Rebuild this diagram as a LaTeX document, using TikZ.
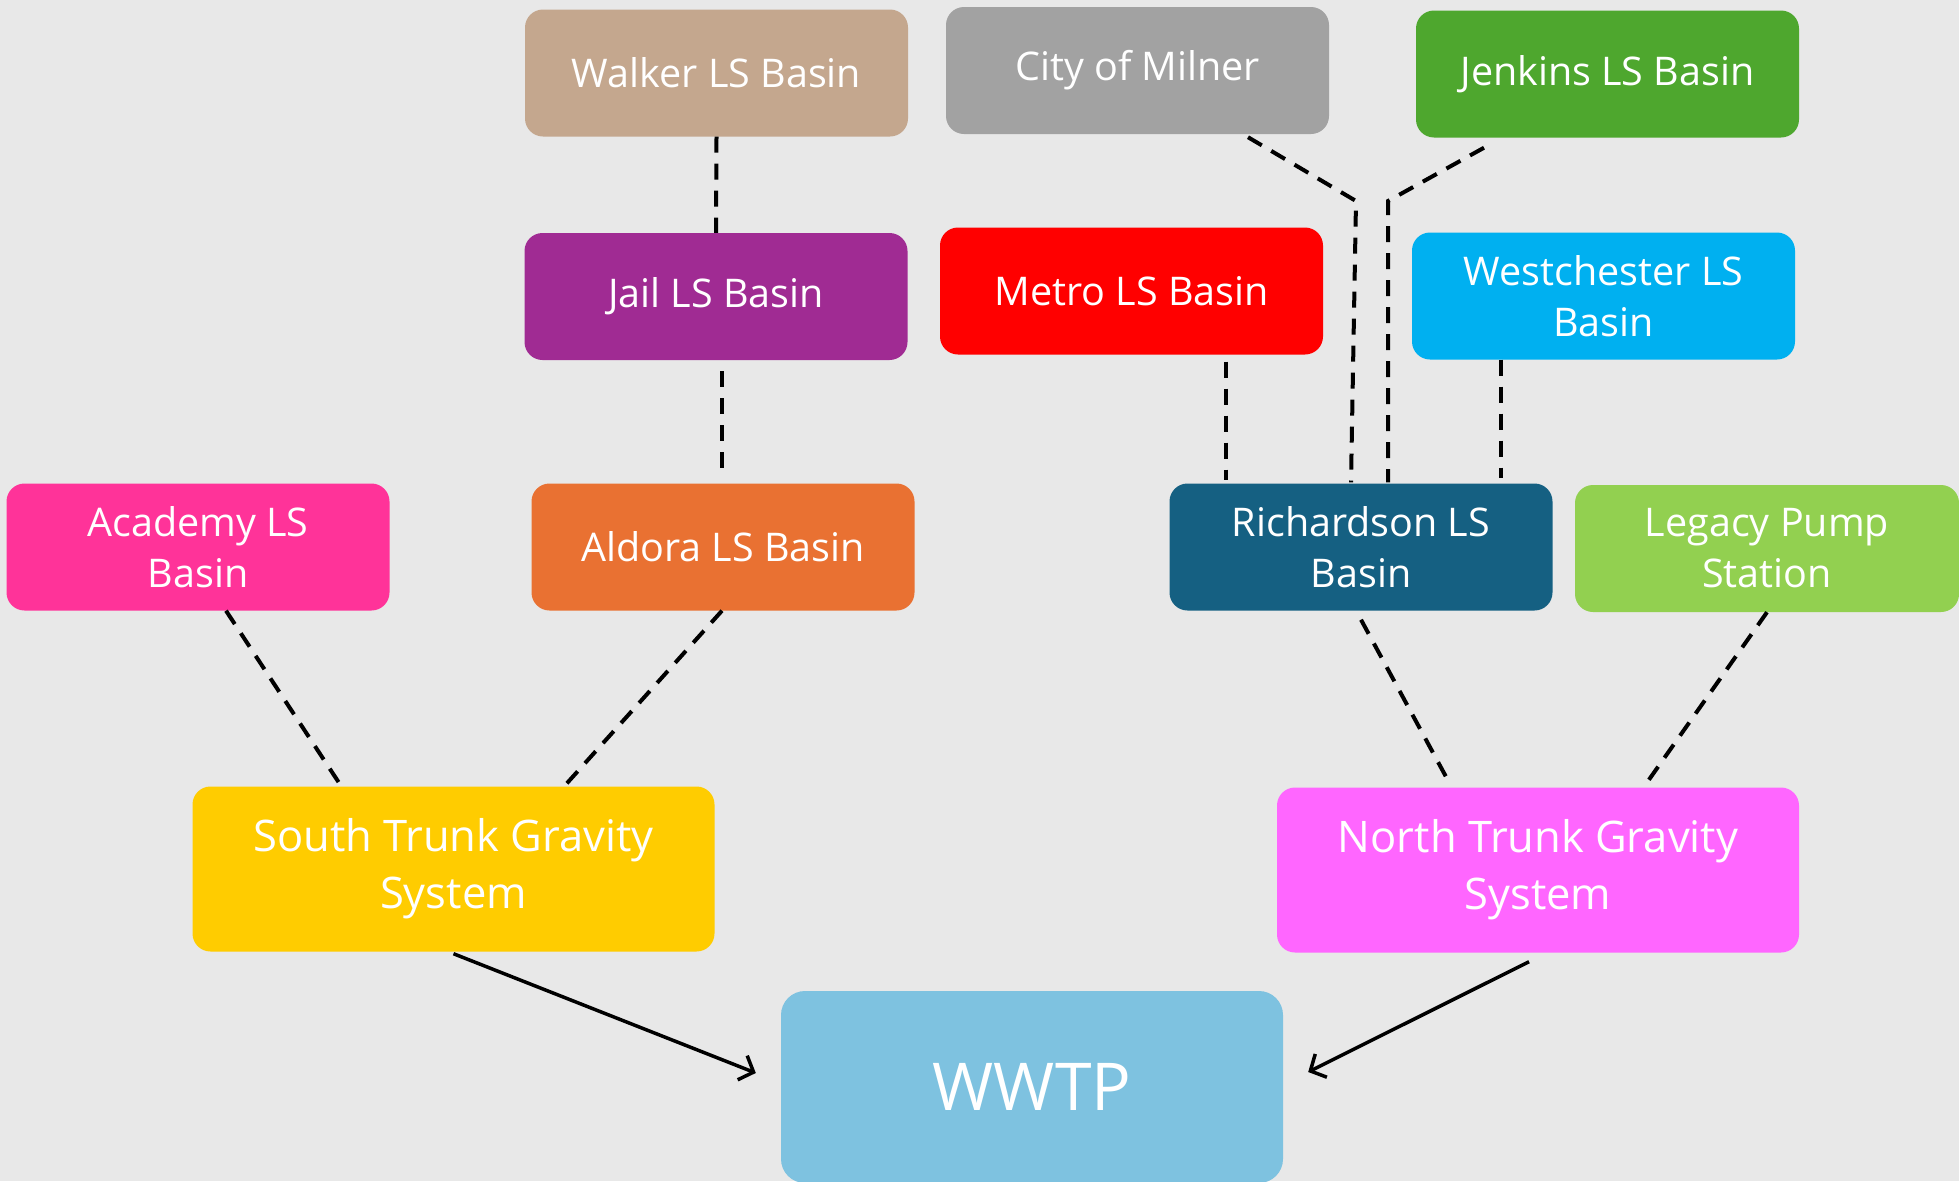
\documentclass[tikz,border=0pt]{standalone}
\usepackage{fontspec}
\setmainfont{Open Sans}
\usetikzlibrary{arrows.meta,calc}
\definecolor{bgc}{HTML}{E8E8E8}
\definecolor{cwalker}{HTML}{C4A78E}
\definecolor{cmilner}{HTML}{A2A2A2}
\definecolor{cjenkins}{HTML}{4EA72E}
\definecolor{cjail}{HTML}{A02B93}
\definecolor{cmetro}{HTML}{FF0000}
\definecolor{cwest}{HTML}{00B0F0}
\definecolor{cacademy}{HTML}{FF3399}
\definecolor{caldora}{HTML}{E97132}
\definecolor{crich}{HTML}{156082}
\definecolor{clegacy}{HTML}{92D050}
\definecolor{csouth}{HTML}{FFCC00}
\definecolor{cnorth}{HTML}{FF66FF}
\definecolor{cwwtp}{HTML}{7EC2E0}
\begin{document}
\begin{tikzpicture}[x=1pt,y=-1pt,
 box/.style={rounded corners=18pt, minimum width=383pt, minimum height=127pt, inner sep=0pt, text=white, align=center, font=\fontsize{39.5}{51}\selectfont},
 trunk/.style={box, minimum width=522pt, minimum height=165pt, font=\fontsize{43.5}{57}\selectfont},
 conn/.style={line width=4pt, dash pattern=on 16pt off 11pt},
 flow/.style={line width=3.5pt, -{Straight Barb[length=12pt,width=26pt]}}]
\fill[bgc] (0,0) rectangle (1959,1181);
\useasboundingbox (0,0) rectangle (1959,1181);
\begin{scope}
\clip (0,0) rectangle (1959,1181);
\node[box, fill=cwwtp, rounded corners=24pt, minimum width=502pt, minimum height=192pt, font=\fontsize{66}{70}\selectfont] (wwtp) at (1032,1087) {WWTP};
\end{scope}
\node[box, fill=cwalker] (walker) at (716.5,73) {Walker LS Basin};
\node[box, fill=cjail] (jail) at (716,296.5) {Jail LS Basin};
\node[box, fill=cmilner] (milner) at (1137.5,70.5) {City of Milner};
\node[box, fill=cjenkins] (jenkins) at (1607.5,74) {Jenkins LS Basin};
\node[box, fill=cmetro] (metro) at (1131.5,291) {Metro LS Basin};
\node[box, fill=cwest] (west) at (1603.5,296) {Westchester LS\\Basin};
\node[box, fill=cacademy] (academy) at (198,547) {Academy LS\\Basin};
\node[box, fill=caldora] (aldora) at (723,547) {Aldora LS Basin};
\node[box, fill=crich] (rich) at (1361,547) {Richardson LS\\Basin};
\node[box, fill=clegacy, minimum width=384pt] (legacy) at (1767,548.5) {Legacy Pump\\Station};
\node[trunk, fill=csouth] (south) at (453.5,869) {South Trunk Gravity\\System};
\node[trunk, fill=cnorth] (north) at (1538,870) {North Trunk Gravity\\System};
% dashed connectors
\draw[conn] (walker.south) -- (jail.north);
\draw[conn] ($(jail.south)+(6,11)$) -- ($(aldora.north)+(-1,-11)$);
\draw[conn] ($(academy.south)+(28,0)$) -- ($(south.north)+(-113.5,-2)$);
\draw[conn] ($(aldora.south)+(-1,0)$) -- ($(south.north)+(112.5,-2)$);
\draw[conn] ($(metro.south)+(94.5,7)$) -- ($(rich.north)+(-135,-3)$);
\draw[conn] ($(west.south)+(-102.5,0)$) -- ($(rich.north)+(140,-5)$);
\coordinate (mbend) at (1356,201);
\coordinate (jbend) at (1388,201);
\draw[conn] ($(milner.south)+(110.5,3)$) -- (mbend) -- ($(rich.north)+(-10,-1)$);
\draw[conn] ($(jenkins.south)+(-123.5,10)$) -- (jbend) -- ($(rich.north)+(27,-1)$);
\draw[conn] ($(rich.south)+(0,9)$) -- ($(north.north)+(-89,-5)$);
\draw[conn] (legacy.south) -- ($(north.north)+(107,-2)$);
% arrows
\draw[flow] ($(south.south)+(0,2)$) -- ($(wwtp.west)+(-25,-14)$);
\draw[flow] ($(north.south)+(-9,9)$) -- ($(wwtp.east)+(25,-15)$);
\end{tikzpicture}
\end{document}
